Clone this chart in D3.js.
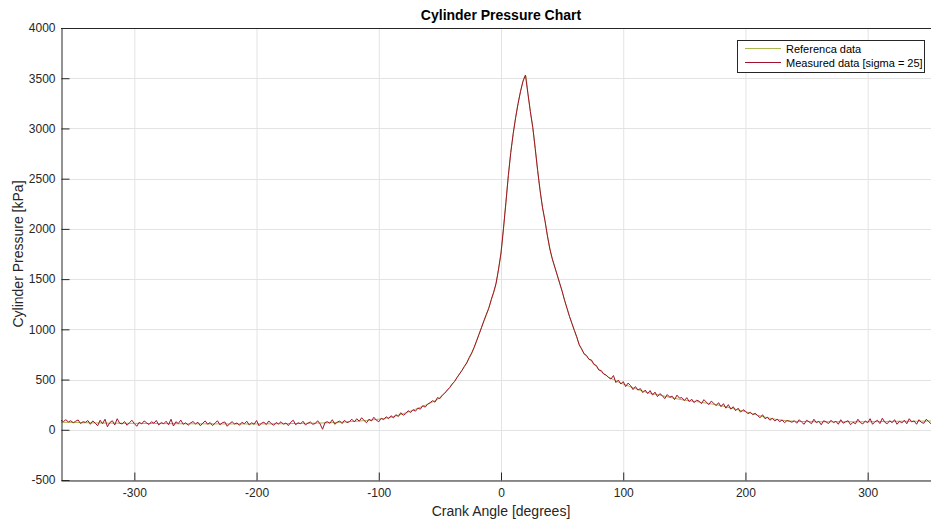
<!DOCTYPE html>
<html>
<head>
<meta charset="utf-8">
<script src="https://cdn.jsdelivr.net/npm/d3@7"></script>
<style>
  html, body { margin: 0; padding: 0; background: #fff; }
  svg { display: block; font-family: "Liberation Sans", Arial, Helvetica, sans-serif; }
</style>
</head>
<body>
<svg id="chart" width="931" height="521"></svg>
<script>
// ---- Data ----
const chartTitle = "Cylinder Pressure Chart";
const xLabel = "Crank Angle [degrees]";
const yLabel = "Cylinder Pressure [kPa]";
const legendLabels = ["Referenca data", "Measured data [sigma = 25]"];

const xTicks = [-300, -200, -100, 0, 100, 200, 300];
const yTicks = [-500, 0, 500, 1000, 1500, 2000, 2500, 3000, 3500, 4000];

// Reference (smooth) curve
const refAngles = [-360,-340,-320,-300,-280,-260,-240,-220,-200,-180,-160,-140,-120,-100,-90,-80,-70,-60,-50,-40,-36,-32,-28,-24,-20,-16,-12,-8,-4,-2,0,2,4,6,8,10,12,14,16,18,20,22,24,26,28,30,32,34,36,38,40,42,44,46,48,50,52,54,56,58,60,62,64,66,68,70,72,74,76,78,80,84,88,92,96,100,110,120,130,140,150,160,170,180,190,200,210,220,230,240,260,280,300,320,340,360];
const refValues = [75,70,66,64,62,60,59,58,58,60,64,70,84,105,125,160,205,255,320,450,520,590,670,760,880,1020,1140,1290,1460,1600,1760,2000,2260,2530,2760,2950,3110,3250,3370,3470,3530,3350,3170,3010,2800,2580,2380,2210,2080,1930,1800,1700,1620,1540,1460,1380,1290,1210,1130,1060,990,920,850,800,760,730,705,685,660,630,600,560,525,500,475,455,410,370,345,318,295,280,262,240,210,180,145,115,95,85,80,80,80,84,85,90];

// Measured (noisy) curve, every 2 degrees from -360 to 360
const measAngleStart = -360;
const measAngleStep = 2;
const measValues = [
  95,82,100,78,90,70,85,98,62,80,74,92,55,88,66,
  40,95,60,105,30,72,90,48,110,65,58,82,45,70,95,
  62,35,75,58,88,70,52,80,66,92,48,72,60,85,50,
  105,38,80,62,96,55,70,45,68,82,58,75,40,66,88,
  55,72,42,65,90,50,70,78,35,62,80,58,68,45,74,
  60,85,48,70,55,92,40,66,75,52,88,62,45,72,58,
  80,55,68,42,75,95,50,70,60,85,48,66,78,55,62,
  90,58,5,72,80,65,100,55,75,88,62,95,70,82,105,
  78,110,85,120,92,70,105,88,125,95,80,115,100,130,110,
  140,118,150,132,170,145,160,190,172,200,185,215,205,240,225,
  255,270,290,275,320,310,345,365,395,420,455,480,520,555,590,
  630,665,720,765,820,885,950,1015,1085,1150,1210,1295,1370,1460,1600,
  1760,2000,2260,2530,2760,2950,3110,3250,3370,3470,3530,3350,3170,3010,2800,
  2580,2380,2210,2080,1930,1800,1700,1620,1540,1460,1380,1290,1210,1130,1060,
  990,925,845,805,755,740,700,695,650,640,595,590,555,545,520,
  505,540,470,495,455,480,430,465,440,400,430,395,410,370,395,
  360,390,345,375,330,360,340,310,350,325,335,300,345,315,320,
  290,320,280,305,270,295,285,260,300,275,250,285,265,240,270,
  230,260,215,250,205,230,190,215,175,200,185,160,175,150,165,
  140,120,150,110,125,95,115,88,105,80,98,70,92,85,75,
  90,65,100,75,55,95,80,60,105,70,85,50,90,78,62,
  95,70,85,55,100,65,80,90,50,75,60,105,72,58,88,
  70,110,55,80,95,62,115,75,60,90,70,100,55,85,68,
  95,60,110,78,88,55,100,72,65,105,80,58,95,70,85,
  90
];

const refColor = "#a8b84e";
const measColor = "#a1122e";

// ---- Layout ----
const W = 931, H = 521;
const plot = { left: 61, top: 28, right: 941, bottom: 480 };

const svg = d3.select("#chart");

const x = d3.scaleLinear().domain([-360, 360]).range([plot.left, plot.right]);
const y = d3.scaleLinear().domain([-500, 4000]).range([plot.bottom, plot.top]);

const axisColor = "#262626";
const gridColor = "#e3e3e3";

// Grid
const grid = svg.append("g");
grid.selectAll(".gx").data(xTicks).join("line")
  .attr("x1", d => x(d) + 0.5).attr("x2", d => x(d) + 0.5)
  .attr("y1", plot.top).attr("y2", plot.bottom)
  .attr("stroke", gridColor).attr("stroke-width", 1);
grid.selectAll(".gy").data(yTicks).join("line")
  .attr("x1", plot.left).attr("x2", plot.right)
  .attr("y1", d => Math.round(y(d)) + 0.5).attr("y2", d => Math.round(y(d)) + 0.5)
  .attr("stroke", gridColor).attr("stroke-width", 1);

// Clip
svg.append("clipPath").attr("id", "clip").append("rect")
  .attr("x", plot.left).attr("y", plot.top)
  .attr("width", plot.right - plot.left).attr("height", plot.bottom - plot.top);

const refData = refAngles.map((a, i) => [a, refValues[i]]);
const measData = measValues.map((v, i) => [measAngleStart + i * measAngleStep, v]);

const lines = svg.append("g").attr("clip-path", "url(#clip)");
lines.append("path").datum(refData)
  .attr("d", d3.line().x(d => x(d[0])).y(d => y(d[1])).curve(d3.curveMonotoneX))
  .attr("fill", "none").attr("stroke", refColor).attr("stroke-width", 1);
lines.append("path").datum(measData)
  .attr("d", d3.line().x(d => x(d[0])).y(d => y(d[1])))
  .attr("fill", "none").attr("stroke", measColor).attr("stroke-width", 1)
  .attr("stroke-linejoin", "round");

// Axes (MATLAB-like, ticks inward)
const tickLen = 8;
const fmt = d => String(d);
const xAxis = d3.axisBottom(x).tickValues(xTicks).tickFormat(fmt).tickSizeInner(-tickLen).tickSizeOuter(0).tickPadding(tickLen + 6);
const yAxis = d3.axisLeft(y).tickValues(yTicks).tickFormat(fmt).tickSizeInner(-tickLen).tickSizeOuter(0).tickPadding(tickLen + 6);

const gx = svg.append("g").attr("transform", `translate(0,${plot.bottom + 0.5})`).call(xAxis);
const gy = svg.append("g").attr("transform", `translate(${plot.left + 0.5},0)`).call(yAxis);
[gx, gy].forEach(g => {
  g.select(".domain").attr("stroke", axisColor);
  g.selectAll(".tick line").attr("stroke", axisColor);
  g.selectAll(".tick text").attr("fill", axisColor).attr("font-size", 12)
    .attr("font-family", "'Liberation Sans', Arial, sans-serif");
});
gy.selectAll(".tick text").attr("x", -6);
gx.selectAll(".tick text").attr("y", 8);

// Top border
svg.append("line").attr("x1", plot.left).attr("x2", plot.right)
  .attr("y1", plot.top + 0.5).attr("y2", plot.top + 0.5)
  .attr("stroke", axisColor);

// Title
svg.append("text").attr("x", (plot.left + plot.right) / 2).attr("y", 20)
  .attr("text-anchor", "middle").attr("font-weight", "bold").attr("font-size", 14)
  .attr("fill", "#000").text(chartTitle);

// Axis labels
svg.append("text").attr("x", (plot.left + plot.right) / 2).attr("y", 516)
  .attr("text-anchor", "middle").attr("font-size", 14).attr("fill", axisColor).text(xLabel);
svg.append("text")
  .attr("transform", `translate(23,${(plot.top + plot.bottom) / 2}) rotate(-90)`)
  .attr("text-anchor", "middle").attr("font-size", 14).attr("fill", axisColor).text(yLabel);

// Legend
const lg = svg.append("g");
lg.append("rect").attr("x", 737.5).attr("y", 40.5).attr("width", 187).attr("height", 32)
  .attr("fill", "#fff").attr("stroke", axisColor).attr("stroke-width", 1);
const legColors = [refColor, measColor];
legendLabels.forEach((t, i) => {
  const cy = 48.5 + i * 14;
  lg.append("line").attr("x1", 745).attr("x2", 781).attr("y1", cy).attr("y2", cy)
    .attr("stroke", legColors[i]).attr("stroke-width", 1);
  lg.append("text").attr("x", 786).attr("y", cy + 4).attr("font-size", 11)
    .attr("fill", "#000").text(t);
});
</script>
</body>
</html>
